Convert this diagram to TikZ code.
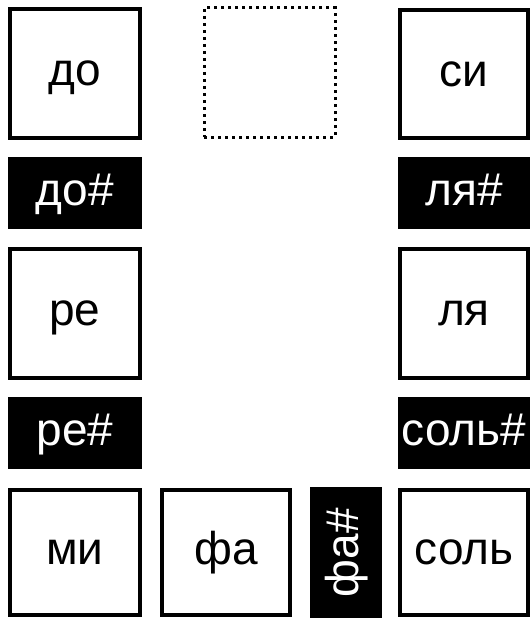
\documentclass[tikz,border=0pt]{standalone}
\usepackage{fontspec}
\setmainfont{Liberation Sans}
\begin{document}
\begin{tikzpicture}[x=1pt,y=-1pt,
  key/.style={font=\fontsize{46}{50}\selectfont, inner sep=0pt, anchor=center, text height=24pt, text depth=0pt},
  whitekey/.style={key, draw=black, line width=4pt, fill=white, rectangle},
  blackkey/.style={key, fill=black, text=white, rectangle},
  emptykey/.style={key, draw=black, line width=3pt, dash pattern=on 3pt off 4pt, rectangle}]
\useasboundingbox (0,0) rectangle (530,618);
\node[whitekey, minimum width=130, minimum height=129] (do) at (75,73.5) {до};
\node[emptykey, minimum width=131, minimum height=129] (blank) at (269.5,72.5) {};
\node[whitekey, minimum width=128, minimum height=128] (si) at (464,74) {си};
\node[blackkey, minimum width=134, minimum height=72] (dos) at (75,193) {до\#};
\node[blackkey, minimum width=132, minimum height=72] (las) at (464,193) {ля\#};
\node[whitekey, minimum width=130, minimum height=129] (re) at (75,313.5) {ре};
\node[whitekey, minimum width=128, minimum height=129] (la) at (464,313.5) {ля};
\node[blackkey, minimum width=134, minimum height=72] (res) at (75,433) {ре\#};
\node[blackkey, minimum width=132, minimum height=72] (sols) at (464,433) {соль\#};
\node[whitekey, minimum width=130, minimum height=125] (mi) at (75,552.5) {ми};
\node[whitekey, minimum width=128, minimum height=125] (fa) at (226,552.5) {фа};
\node[blackkey, minimum width=72, minimum height=131] (fas) at (346,552.5) {};
\node[key, text=white, rotate=90] (fastext) at (fas.center) {фа\#};
\node[whitekey, minimum width=128, minimum height=125] (sol) at (464,552.5) {соль};
\end{tikzpicture}
\end{document}
